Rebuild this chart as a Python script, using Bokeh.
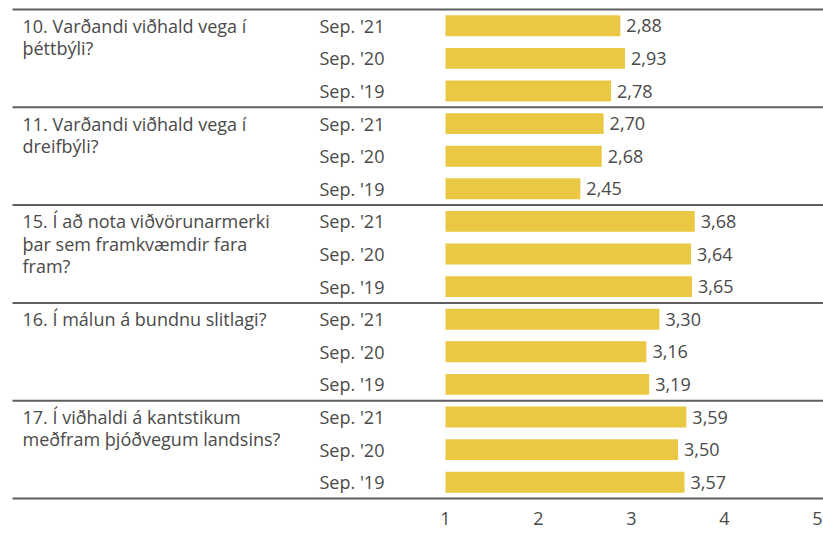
from bokeh.plotting import figure
from bokeh.models import Range1d, ColumnDataSource
from bokeh.core.properties import value
from bokeh.embed import file_html
from bokeh.resources import INLINE

# ---------------- data ----------------
questions = [
    "10. Varðandi viðhald vega í\nþéttbýli?",
    "11. Varðandi viðhald vega í\ndreifbýli?",
    "15. Í að nota viðvörunarmerki\nþar sem framkvæmdir fara\nfram?",
    "16. Í málun á bundnu slitlagi?",
    "17. Í viðhaldi á kantstikum\nmeðfram þjóðvegum landsins?",
]
periods = ["Sep. '21", "Sep. '20", "Sep. '19"]
q10 = [2.88, 2.93, 2.78]
q11 = [2.70, 2.68, 2.45]
q15 = [3.68, 3.64, 3.65]
q16 = [3.30, 3.16, 3.19]
q17 = [3.59, 3.50, 3.57]
series = [q10, q11, q15, q16, q17]
ticks = [1, 2, 3, 4, 5]
tick_labels = ["1", "2", "3", "4", "5"]
scale_min = 1

# ---------------- layout / style ----------------
FONT = "Open Sans"
FSIZE = "18px"
TEXT_COLOR = "#4a4a4a"
BAR_COLOR = "#EBC844"
LINE_COLOR = "#5f5f5f"
W, H = 823, 534
PX_PER_UNIT = 93.0
X_ORIGIN_PX = 445.0     # px where scale value 1 sits
ROW_PX = 32.6
TOP_PX = 9.0
LEFT_LINE_PX = 12.0
QTEXT_PX = 22.0
PERIOD_PX = 319.0
LINE_STEP_PX = 22.3
TICK_GAP_PX = 20.0
BAR_H = 0.64

x_start = scale_min - X_ORIGIN_PX / PX_PER_UNIT
x_end = x_start + W / PX_PER_UNIT
y_top = -0.5 - TOP_PX / ROW_PX
y_bottom = y_top + H / ROW_PX

def px_to_x(px):
    return x_start + px / PX_PER_UNIT

p = figure(width=W, height=H, x_range=Range1d(x_start, x_end),
           y_range=Range1d(y_bottom, y_top), output_backend="svg",
           toolbar_location=None, min_border=0, outline_line_color=None,
           background_fill_color="white", border_fill_color="white")
p.axis.visible = False
p.grid.visible = False

n_per = len(periods)
rows, vals, labels, per_txt = [], [], [], []
for g, s in enumerate(series):
    for k, v in enumerate(s):
        rows.append(g * n_per + k)
        vals.append(v)
        labels.append(f"{v:.2f}".replace(".", ","))
        per_txt.append(periods[k])

src = ColumnDataSource(dict(y=rows, v=vals, lab=labels, per=per_txt))

# bars
p.hbar(y="y", left=scale_min, right="v", height=BAR_H, source=src,
       fill_color=BAR_COLOR, line_color=None)

# value labels
p.text(x="v", y="y", text="lab", source=src, x_offset=6,
       text_font=value(FONT), text_font_size=FSIZE, text_color=TEXT_COLOR,
       text_align="left", text_baseline="middle")

# period labels
per_x = px_to_x(PERIOD_PX)
p.text(x=per_x, y="y", text="per", source=src,
       text_font=value(FONT), text_font_size=FSIZE, text_color=TEXT_COLOR,
       text_align="left", text_baseline="middle")

# question labels (one glyph row per text line)
qx, qy, qt = [], [], []
for g, q in enumerate(questions):
    for j, line in enumerate(q.split("\n")):
        qx.append(px_to_x(QTEXT_PX))
        qy.append(g * n_per + j * LINE_STEP_PX / ROW_PX)
        qt.append(line)
p.text(x=qx, y=qy, text=qt, text_font=value(FONT), text_font_size=FSIZE,
       text_color=TEXT_COLOR, text_align="left", text_baseline="middle")

# separator lines (top, between groups, bottom)
bounds = [-0.5] + [(g + 1) * n_per - 0.5 for g in range(len(questions))]
p.segment(x0=[px_to_x(LEFT_LINE_PX)] * len(bounds), x1=[x_end] * len(bounds),
          y0=bounds, y1=bounds, line_color=LINE_COLOR, line_width=2)

# tick labels along the scale
ty = bounds[-1] + TICK_GAP_PX / ROW_PX
p.text(x=ticks, y=[ty] * len(ticks), text=tick_labels,
       text_font=value(FONT), text_font_size=FSIZE, text_color=TEXT_COLOR,
       text_align="center", text_baseline="middle")

open("out.html", "w").write(file_html(p, INLINE))
